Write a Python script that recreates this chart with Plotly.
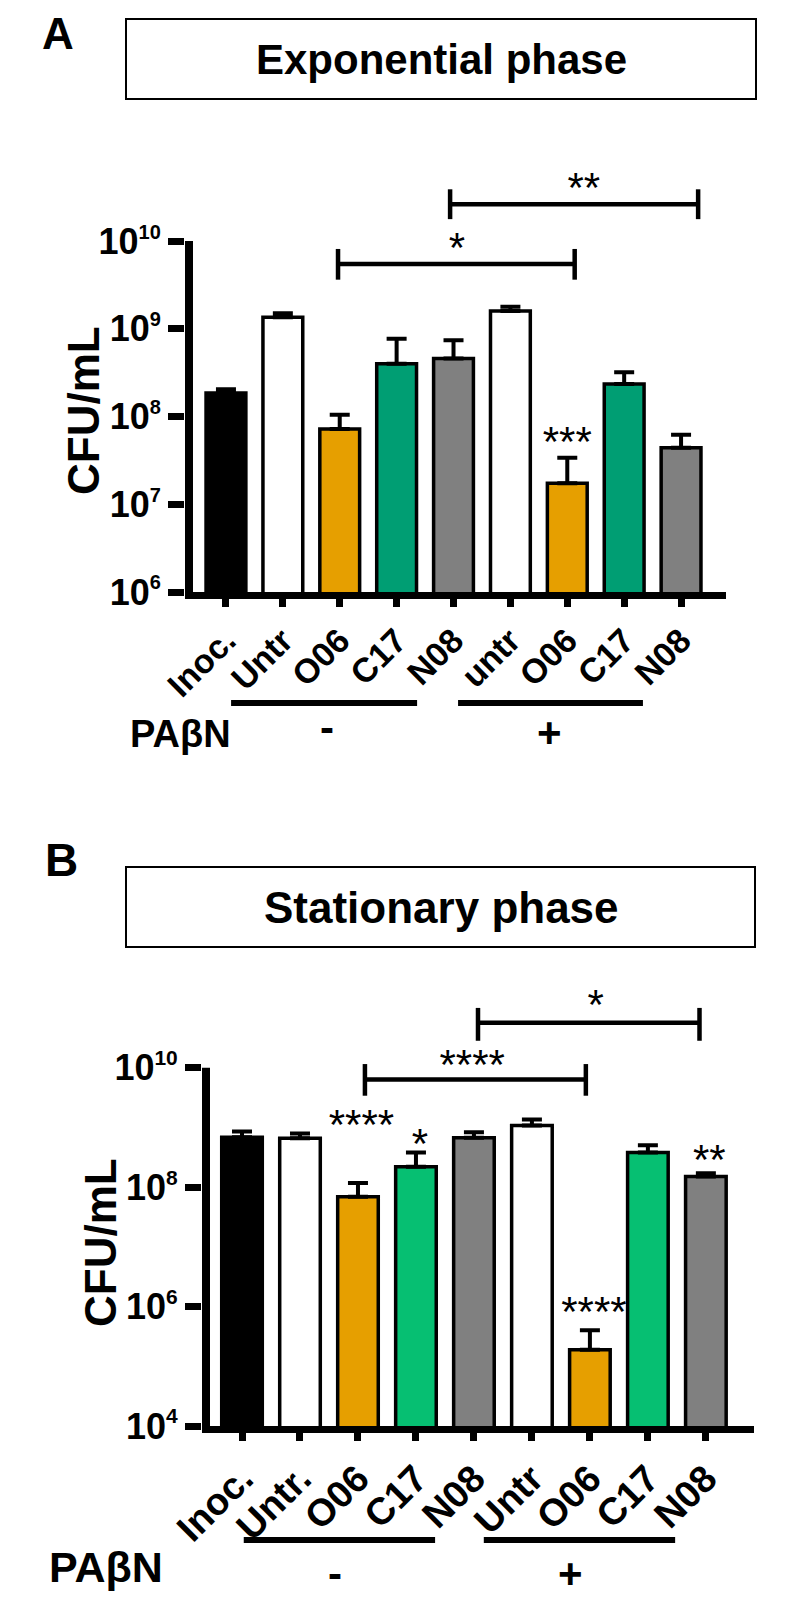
import plotly.graph_objects as go

# ---------------- data ----------------
labels_a = ["Inoc.", "Untr", "O06", "C17", "N08", "untr", "O06", "C17", "N08"]
values_a = [1.86e8, 1.35e9, 7.2e7, 4.0e8, 4.6e8, 1.6e9, 1.74e7, 2.35e8, 4.4e7]
upper_a = [2.04e8, 1.5e9, 1.05e8, 7.7e8, 7.4e8, 1.78e9, 3.4e7, 3.2e8, 6.2e7]

labels_b = ["Inoc.", "Untr.", "O06", "C17", "N08", "Untr", "O06", "C17", "N08"]
values_b = [6.8e8, 6.6e8, 6.9e7, 2.2e8, 6.7e8, 1.07e9, 1.9e5, 3.8e8, 1.5e8]
upper_b = [8.5e8, 7.9e8, 1.17e8, 3.8e8, 8.3e8, 1.35e9, 4.0e5, 5.0e8, 1.7e8]

colors_a = ["#000000", "#FFFFFF", "#E69F00", "#009E73", "#808080",
            "#FFFFFF", "#E69F00", "#009E73", "#808080"]
colors_b = ["#000000", "#FFFFFF", "#E69F00", "#06BF72", "#808080",
            "#FFFFFF", "#E69F00", "#06BF72", "#808080"]

# significance brackets: (x_left, x_right, y_level, tick_low, tick_high)
brackets_a = [(1.97, 6.13, 10**9.74, 10**9.56, 10**9.91),
              (3.94, 8.30, 10**10.42, 10**10.25, 10**10.59)]
brackets_b = [(2.12, 5.93, 10**9.80, 10**9.53, 10**10.06),
              (4.07, 7.89, 10**10.75, 10**10.45, 10**11.0)]

# star labels: text, x, y
stars_a_text = ["*", "**", "***"]
stars_a_x = [4.06, 6.29, 6.0]
stars_a_y = [10**9.88, 10**10.57, 10**7.67]

stars_b_text = ["*", "****", "****", "*", "****", "**"]
stars_b_x = [6.1, 3.97, 2.06, 3.07, 6.07, 8.06]
stars_b_y = [10**10.99, 10**9.98, 10**8.98, 10**8.67, 10**5.85, 10**8.39]

# y tick values and exponents
tick_a_vals = [1e6, 1e7, 1e8, 1e9, 1e10]
tick_a_exp = [6, 7, 8, 9, 10]
tick_b_vals = [1e4, 1e6, 1e8, 1e10]
tick_b_exp = [4, 6, 8, 10]

FONT = "Liberation Sans, Arial, sans-serif"
W, H = 788, 1599

xs = list(range(9))

fig = go.Figure()


def add_panel(values, upper, colors, xa, ya, brackets, st_text, st_x, st_y):
    err = [u - v for u, v in zip(upper, values)]
    fig.add_trace(go.Bar(
        x=xs, y=values, width=0.70,
        marker=dict(color=colors, line=dict(color="black", width=3.5)),
        error_y=dict(type="data", symmetric=False, array=err,
                     arrayminus=[0] * len(err), color="black",
                     thickness=4, width=10),
        xaxis=xa, yaxis=ya, showlegend=False, hoverinfo="skip"))
    for (x0, x1, ym, ylo, yhi) in brackets:
        fig.add_trace(go.Scatter(
            x=[x0, x0, None, x0, x1, None, x1, x1],
            y=[ylo, yhi, None, ym, ym, None, ylo, yhi],
            mode="lines", line=dict(color="black", width=4.5),
            xaxis=xa, yaxis=ya, showlegend=False, hoverinfo="skip",
            cliponaxis=False))
    fig.add_trace(go.Scatter(
        x=st_x, y=st_y, text=st_text, mode="text",
        textposition="middle center",
        textfont=dict(family=FONT, size=42, color="black"),
        xaxis=xa, yaxis=ya, showlegend=False, hoverinfo="skip",
        cliponaxis=False))


add_panel(values_a, upper_a, colors_a, "x", "y", brackets_a,
          stars_a_text, stars_a_x, stars_a_y)
add_panel(values_b, upper_b, colors_b, "x2", "y2", brackets_b,
          stars_b_text, stars_b_x, stars_b_y)


def px_x(p):
    return p / W


def px_y(p):
    return 1 - p / H


def power_labels(exps, sup_size):
    return ["10<sup><span style='font-size:%dpx'>%d</span></sup>" % (sup_size, e)
            for e in exps]


xaxis_common = dict(
    tickmode="array", tickvals=xs, tickangle=-45,
    showline=True, linecolor="black", linewidth=7,
    ticks="outside", ticklen=8, tickwidth=7, tickcolor="black",
    showgrid=False, zeroline=False, fixedrange=True, automargin=False,
)
yaxis_common = dict(
    type="log", tickmode="array",
    showline=False, ticks="outside", ticklen=16, tickwidth=7,
    tickcolor="black", showgrid=False, zeroline=False,
    tickfont=dict(family=FONT, size=36, color="black", weight="bold"),
    fixedrange=True, automargin=False,
)

fig.update_layout(
    width=W, height=H, autosize=False,
    margin=dict(l=0, r=0, t=0, b=0, pad=0, autoexpand=False),
    paper_bgcolor="white", plot_bgcolor="rgba(0,0,0,0)",
    showlegend=False,
    xaxis=dict(**xaxis_common, domain=[px_x(185), px_x(726)],
               range=[-0.72, 8.79], ticktext=labels_a, anchor="y",
               tickfont=dict(family=FONT, size=34, color="black", weight="bold")),
    yaxis=dict(**yaxis_common, domain=[px_y(592), px_y(170)],
               range=[6, 10.81], tickvals=tick_a_vals,
               ticktext=power_labels(tick_a_exp, 20), anchor="x"),
    xaxis2=dict(**xaxis_common, domain=[px_x(202), px_x(754)],
                range=[-0.69, 8.83], ticktext=labels_b, anchor="y2",
                tickfont=dict(family=FONT, size=38, color="black", weight="bold")),
    yaxis2=dict(**yaxis_common, domain=[px_y(1426), px_y(990)],
                range=[4, 11.30], tickvals=tick_b_vals,
                ticktext=power_labels(tick_b_exp, 21), anchor="x2"),
)

shapes = []
# y-axis lines (only up to 10^10)
shapes.append(dict(type="line", xref="paper", yref="y",
                   x0=px_x(189), x1=px_x(189), y0=1e6, y1=1e10,
                   line=dict(color="black", width=8)))
shapes.append(dict(type="line", xref="paper", yref="y2",
                   x0=px_x(206), x1=px_x(206), y0=1e4, y1=1e10,
                   line=dict(color="black", width=8)))
# title boxes
shapes.append(dict(type="rect", xref="paper", yref="paper",
                   x0=px_x(126), x1=px_x(756), y0=px_y(99), y1=px_y(19),
                   line=dict(color="black", width=2)))
shapes.append(dict(type="rect", xref="paper", yref="paper",
                   x0=px_x(126), x1=px_x(755), y0=px_y(947), y1=px_y(867),
                   line=dict(color="black", width=2)))
# group lines under the labels
for (x0, x1) in [(0.09, 3.36), (4.08, 7.33)]:
    shapes.append(dict(type="line", xref="x", yref="paper",
                       x0=x0, x1=x1, y0=px_y(703), y1=px_y(703),
                       line=dict(color="black", width=6)))
for (x0, x1) in [(0.03, 3.33), (4.17, 7.47)]:
    shapes.append(dict(type="line", xref="x2", yref="paper",
                       x0=x0, x1=x1, y0=px_y(1540), y1=px_y(1540),
                       line=dict(color="black", width=6)))
fig.update_layout(shapes=shapes)


def bold_font(size):
    return dict(family=FONT, size=size, color="black", weight="bold")


def note(text, x, y, size, xref="paper", angle=0):
    return dict(text=text, x=x, y=y, xref=xref, yref="paper",
                xanchor="center", yanchor="middle", showarrow=False,
                textangle=angle, font=bold_font(size))


ann = [
    note("A", px_x(58), px_y(33), 44),
    note("B", px_x(61), px_y(860), 46),
    note("Exponential phase", px_x(441), px_y(59), 42),
    note("Stationary phase", px_x(441), px_y(907), 44),
    note("CFU/mL", px_x(84), px_y(411), 44, angle=-90),
    note("CFU/mL", px_x(100), px_y(1243), 44, angle=-90),
    note("PAβN", px_x(180), px_y(734), 38),
    note("PAβN", px_x(106), px_y(1567), 43),
    note("-", 1.78, px_y(727), 42, xref="x"),
    note("+", 5.68, px_y(732), 42, xref="x"),
    note("-", 1.6, px_y(1573), 42, xref="x2"),
    note("+", 5.66, px_y(1573), 42, xref="x2"),
]
fig.update_layout(annotations=ann)

fig.write_html("out.html",
               config={"displayModeBar": False, "staticPlot": True},
               post_script="document.body.style.margin='0';"
                           "document.body.style.overflow='hidden';")
